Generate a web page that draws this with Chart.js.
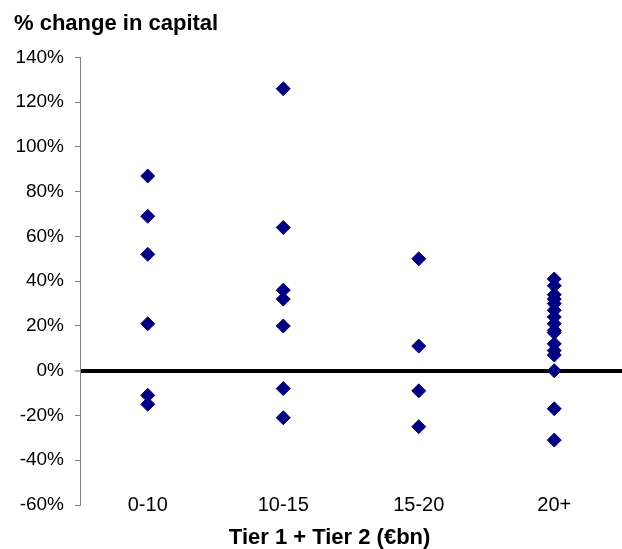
<!DOCTYPE html>
<html>
<head>
<meta charset="utf-8">
<script src="https://cdn.jsdelivr.net/npm/chart.js@4"></script>
<style>
  body { margin: 0; background: #fff; }
</style>
</head>
<body>
<canvas id="myChart" width="622" height="549"></canvas>
<script>
const categories = ['0-10', '10-15', '15-20', '20+'];

// % change in capital, one array per size band
const band0to10 = [87, 69, 52, 21, -11, -15];
const band10to15 = [126, 64, 36, 32, 20, -8, -21];
const band15to20 = [50, 11, -9, -25];
const band20plus = [41, 38, 34, 32, 30, 27, 24, 21, 18, 17, 12, 9, 7, 0, -17, -31];

const yMin = -60;
const yMax = 140;
const yStep = 20;

const bands = [band0to10, band10to15, band15to20, band20plus];
let points = [];
bands.forEach((vals, i) => {
  vals.forEach(v => points.push({ x: categories[i], y: v }));
});

Chart.defaults.font.family = "'Liberation Sans', Arial, sans-serif";
Chart.defaults.color = '#000';

const ctx = document.getElementById('myChart');

new Chart(ctx, {
  type: 'scatter',
  data: {
    labels: categories,
    datasets: [{
      data: points,
      pointStyle: 'rectRot',
      pointRadius: 7,
      backgroundColor: '#000080',
      borderColor: '#000080',
      borderWidth: 1
    }]
  },
  options: {
    responsive: false,
    animation: false,
    layout: { autoPadding: false, padding: { left: 14, top: 0, right: 0, bottom: 0 } },
    plugins: {
      legend: { display: false },
      tooltip: { enabled: false },
      title: {
        display: true,
        text: '% change in capital',
        align: 'start',
        color: '#000',
        font: { size: 22, weight: 'bold' },
        padding: { top: 11, bottom: 20 }
      }
    },
    scales: {
      x: {
        type: 'category',
        offset: true,
        grid: { display: false, drawTicks: false },
        border: { display: false },
        // mirror keeps the labels from being clipped to the axis box
        ticks: { color: '#000', font: { size: 20 }, mirror: true, padding: -12 },
        title: {
          display: true,
          text: 'Tier 1 + Tier 2 (€bn)' + '       ',
          color: '#000',
          font: { size: 22, weight: 'bold' },
          padding: { top: 0, bottom: -2 }
        },
        afterFit: function (scale) { scale.height = 44; }
      },
      y: {
        min: yMin,
        max: yMax,
        z: 1,
        ticks: {
          stepSize: yStep,
          color: '#000',
          font: { size: 19 },
          padding: 11,
          callback: v => v + '%'
        },
        grid: {
          color: c => (c.tick && c.tick.value === 0) ? '#000' : 'rgba(0,0,0,0)',
          lineWidth: c => (c.tick && c.tick.value === 0) ? 4 : 1,
          tickColor: '#808080',
          tickWidth: 1,
          tickLength: 5
        },
        border: { color: '#808080', width: 1 },
        afterFit: function (scale) { scale.width = 66; }
      }
    }
  }
});
</script>
</body>
</html>
